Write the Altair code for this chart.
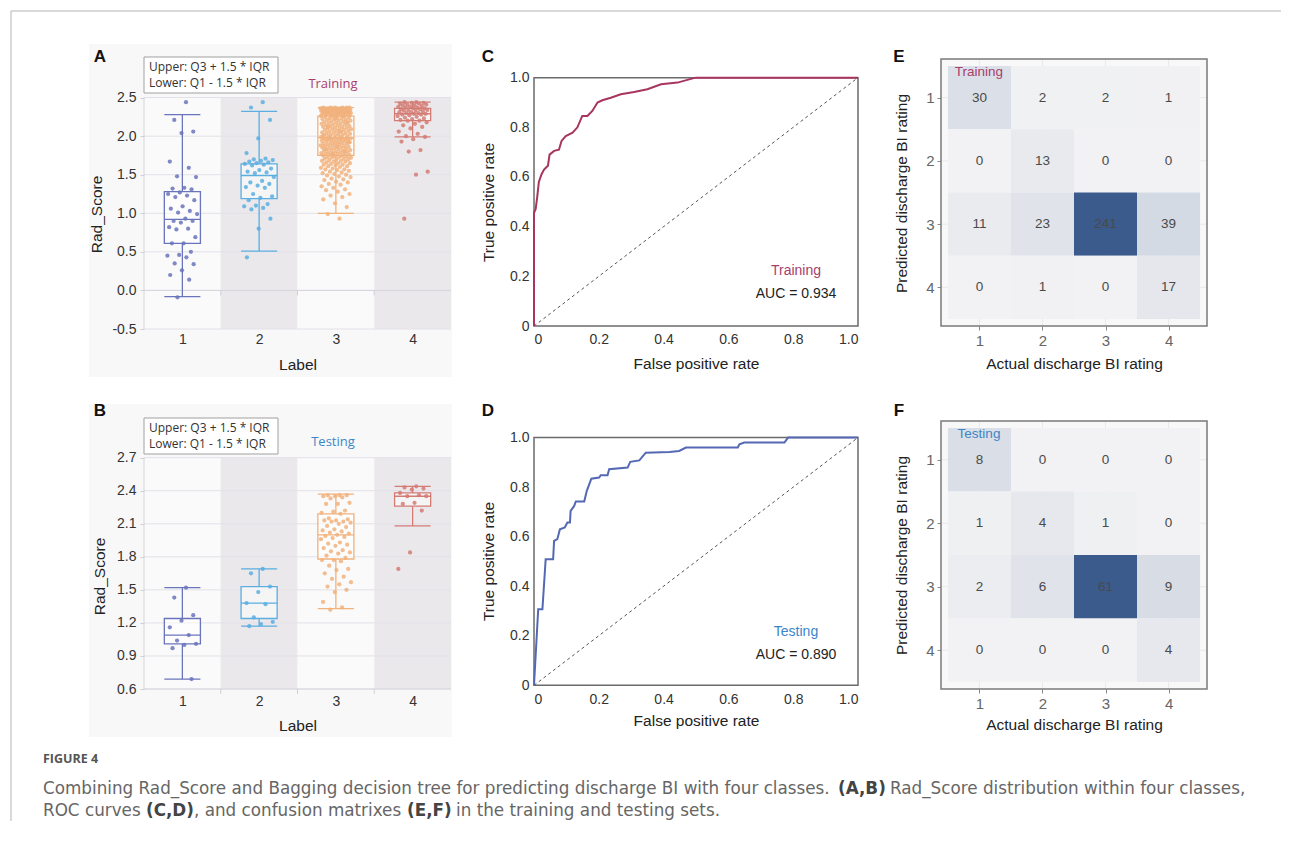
import altair as alt
import pandas as pd

# ---------------- data ----------------
labels = [1, 2, 3, 4]

# Rad_Score points, training set (A)
train_g1 = [2.44, 2.21, 2.06, 2.04, 1.67, 1.59, 1.48, 1.47, 1.33, 1.32, 1.31, 1.27, 1.25, 1.23,
            1.21, 1.17, 1.09, 1.06, 1.03, 1.01, 0.99, 0.93, 0.90, 0.90, 0.88, 0.82, 0.80, 0.79,
            0.69, 0.61, 0.61, 0.50, 0.46, 0.45, 0.43, 0.35, 0.34, 0.26, 0.20, 0.14, -0.09]
train_g2 = [2.44, 2.37, 2.21, 1.97, 1.78, 1.71, 1.70, 1.69, 1.68, 1.67, 1.66, 1.65, 1.64, 1.63,
            1.62, 1.58, 1.56, 1.54, 1.53, 1.52, 1.47, 1.42, 1.40, 1.38, 1.36, 1.34, 1.33, 1.25,
            1.22, 1.20, 1.17, 1.12, 1.10, 1.09, 1.07, 1.05, 0.93, 0.80, 0.43]
train_g3 = [0.93, 0.99, 1.08, 1.13, 1.18, 1.21, 1.23, 1.25, 1.28, 1.30, 1.31, 1.33, 1.35, 1.37,
            1.38, 1.40, 1.41, 1.43, 1.44, 1.45, 1.47, 1.48, 1.49, 1.50, 1.51, 1.52, 1.53, 1.54,
            1.55, 1.56, 1.57, 1.57, 1.58, 1.59, 1.60, 1.61, 1.61, 1.62, 1.63, 1.63, 1.64, 1.65,
            1.65, 1.66, 1.67, 1.67, 1.68, 1.68, 1.69, 1.70, 1.70, 1.71, 1.71, 1.72, 1.72, 1.73,
            1.73, 1.74, 1.74, 1.75, 1.75,
            1.76, 1.76, 1.77, 1.77, 1.78, 1.78, 1.78, 1.79, 1.79, 1.80, 1.80, 1.81, 1.81, 1.82,
            1.82, 1.83, 1.83, 1.84, 1.84, 1.85, 1.85, 1.85, 1.86, 1.86, 1.87, 1.87, 1.88, 1.88,
            1.89, 1.89, 1.90, 1.90, 1.90, 1.91, 1.91, 1.92, 1.92, 1.93, 1.93, 1.93, 1.94, 1.94,
            1.95, 1.95, 1.95, 1.96, 1.96, 1.96, 1.97, 1.97, 1.97, 1.97, 1.98, 1.98, 1.98, 1.98,
            1.92, 1.87, 1.83, 1.80, 1.77,
            1.99, 1.99, 2.00, 2.00, 2.01, 2.01, 2.02, 2.02, 2.03, 2.03, 2.04, 2.04, 2.05, 2.05,
            2.06, 2.06, 2.07, 2.07, 2.08, 2.08, 2.09, 2.09, 2.10, 2.10, 2.11, 2.11, 2.12, 2.12,
            2.13, 2.13, 2.14, 2.14, 2.15, 2.15, 2.16, 2.16, 2.17, 2.17, 2.18, 2.18, 2.19, 2.19,
            2.20, 2.20, 2.21, 2.21, 2.22, 2.22, 2.23, 2.23, 2.24, 2.24, 2.25, 2.25, 2.26, 2.26,
            2.06, 2.12, 2.18, 2.23, 2.01,
            2.26, 2.27, 2.27, 2.27, 2.28, 2.28, 2.28, 2.28, 2.29, 2.29, 2.29, 2.29, 2.30, 2.30,
            2.30, 2.30, 2.30, 2.31, 2.31, 2.31, 2.31, 2.31, 2.32, 2.32, 2.32, 2.32, 2.32, 2.33,
            2.33, 2.33, 2.33, 2.33, 2.34, 2.34, 2.34, 2.34, 2.34, 2.34, 2.35, 2.35, 2.35, 2.35,
            2.35, 2.35, 2.35, 2.36, 2.36, 2.36, 2.36, 2.36, 2.36, 2.36, 2.37, 2.37, 2.37, 2.37,
            2.37, 2.37, 2.30, 2.28]
train_g4 = [2.44, 2.44, 2.43, 2.43, 2.42, 2.42, 2.41, 2.41, 2.40, 2.40, 2.39, 2.38, 2.38, 2.37,
            2.37, 2.36, 2.36, 2.35, 2.35, 2.34, 2.34, 2.33, 2.33, 2.32, 2.31, 2.31, 2.30, 2.30,
            2.29, 2.29, 2.28, 2.28, 2.27, 2.26, 2.25, 2.24, 2.23, 2.22, 2.21, 2.20, 2.20, 2.18,
            2.16, 2.14, 2.12, 2.10, 2.06, 2.03, 2.00, 1.99, 1.96, 1.93, 1.82, 1.80, 1.54, 1.50, 0.93]

# Rad_Score points, testing set (B)
test_g1 = [1.52, 1.43, 1.27, 1.22, 1.16, 1.09, 1.04, 1.01, 1.00, 0.97, 0.69]
test_g2 = [1.69, 1.65, 1.53, 1.48, 1.38, 1.37, 1.25, 1.21, 1.19, 1.17]
test_g3 = [2.36, 2.36, 2.36, 2.35, 2.35, 2.34, 2.33, 2.29, 2.28, 2.28, 2.22, 2.21, 2.20, 2.19,
           2.15, 2.14, 2.13, 2.13, 2.12, 2.12, 2.11, 2.10, 2.08, 2.07, 2.05, 2.04, 2.03, 2.02,
           2.01, 2.00, 1.99, 1.98, 1.97, 1.96, 1.93, 1.92, 1.91, 1.90, 1.88, 1.86, 1.85, 1.84,
           1.83, 1.81, 1.79, 1.77, 1.77, 1.76, 1.72, 1.69, 1.68, 1.65, 1.62, 1.60, 1.57, 1.55,
           1.53, 1.50, 1.48, 1.39, 1.34, 1.32]
test_g4 = [2.44, 2.43, 2.42, 2.41, 2.38, 2.36, 2.35, 2.35, 2.29, 2.28, 2.22, 1.84, 1.69]

# box statistics (lower whisker, Q1, median, Q3, upper whisker)
train_lo = [-0.08, 0.51, 1.00, 1.99]
train_q1 = [0.61, 1.19, 1.75, 2.20]
train_med = [0.92, 1.49, 1.98, 2.29]
train_q3 = [1.28, 1.64, 2.26, 2.36]
train_hi = [2.28, 2.32, 2.37, 2.44]

test_lo = [0.69, 1.17, 1.33, 2.08]
test_q1 = [1.01, 1.24, 1.78, 2.26]
test_med = [1.09, 1.38, 2.00, 2.35]
test_q3 = [1.24, 1.53, 2.19, 2.38]
test_hi = [1.52, 1.69, 2.37, 2.44]

train_yticks = [-0.5, 0.0, 0.5, 1.0, 1.5, 2.0, 2.5]
test_yticks = [0.6, 0.9, 1.2, 1.5, 1.8, 2.1, 2.4, 2.7]

# ROC curves
roc_train_fpr = [0, 0, 0.005, 0.01, 0.015, 0.023, 0.031, 0.043, 0.048, 0.062, 0.077, 0.085, 0.098,
                 0.119, 0.134, 0.149, 0.165, 0.18, 0.196, 0.211, 0.237, 0.268, 0.309, 0.35, 0.392,
                 0.443, 0.49, 0.5, 1.0]
roc_train_tpr = [0, 0.456, 0.47, 0.52, 0.58, 0.61, 0.63, 0.645, 0.69, 0.705, 0.71, 0.745, 0.765,
                 0.778, 0.80, 0.846, 0.846, 0.866, 0.90, 0.909, 0.919, 0.933, 0.942, 0.953, 0.973,
                 0.98, 0.997, 1.0, 1.0]
roc_test_fpr = [0, 0.013, 0.026, 0.036, 0.059, 0.062, 0.072, 0.08, 0.095, 0.103, 0.111, 0.113,
                0.124, 0.129, 0.155, 0.163, 0.177, 0.201, 0.206, 0.227, 0.232, 0.289, 0.297, 0.325,
                0.345, 0.418, 0.448, 0.469, 0.629, 0.634, 0.649, 0.773, 0.784, 1.0]
roc_test_tpr = [0, 0.307, 0.307, 0.509, 0.509, 0.583, 0.59, 0.63, 0.637, 0.657, 0.657, 0.704,
                0.724, 0.742, 0.742, 0.785, 0.834, 0.839, 0.848, 0.848, 0.872, 0.879, 0.902, 0.908,
                0.939, 0.942, 0.946, 0.96, 0.96, 0.973, 0.98, 0.98, 1.0, 1.0]
roc_ticks = [0, 0.2, 0.4, 0.6, 0.8, 1.0]

# confusion matrices: rows = predicted 1..4, columns = actual 1..4
cm_train = [[30, 2, 2, 1],
            [0, 13, 0, 0],
            [11, 23, 241, 39],
            [0, 1, 0, 17]]
cm_test = [[8, 0, 0, 0],
           [1, 4, 1, 0],
           [2, 6, 61, 9],
           [0, 0, 0, 4]]

caption_head = "FIGURE 4"
caption_line1 = ["Combining Rad_Score and Bagging decision tree for predicting discharge BI with four classes.",
                 "(A,B)", "Rad_Score distribution within four classes,"]
caption_line2 = ["ROC curves", "(C,D)", ", and confusion matrixes", "(E,F)",
                 "in the training and testing sets."]

# ---------------- style ----------------
box_colors = ["#6a74bb", "#5aaee0", "#f1b27c", "#d47b74"]
band_fills = ["#fafafa", "#ebe8ec", "#fafafa", "#ebe8ec"]
train_color = "#a8406e"
test_color = "#3c86c8"
roc_train_color = "#a8355f"
roc_test_color = "#5468b4"
SANS = "Liberation Sans"
ONE = pd.DataFrame({"k": [0]})
PANEL_W = 307


def fixed_text(text, x, y, size=13, color="#333", font=SANS, weight="normal",
               align="left", baseline="middle"):
    return alt.Chart(ONE).mark_text(
        text=text, align=align, baseline=baseline, fontSize=size, color=color,
        font=font, fontWeight=weight
    ).encode(x=alt.value(x), y=alt.value(y))


def points_df(groups):
    rows = []
    for g, vals in zip(labels, groups):
        for i, v in enumerate(vals):
            rows.append({"g": g, "v": v, "i": i + 1})
    return pd.DataFrame(rows)


def box_panel(groups, lo, q1, med, q3, hi, yticks, ydom, base, tick_len, h,
              set_name, set_color, letter, title_y, legend_y0, set_y, letter_y,
              x_label_pad, x_title_pad, y_title_pad, bg_y0, bg_y1):
    xs = alt.Scale(domain=[0.5, 4.5], nice=False, zero=False)
    ys = alt.Scale(domain=ydom, nice=False, zero=False)
    col = alt.Scale(domain=labels, range=box_colors)
    xaxis = alt.Axis(values=labels, format="d", title="Label", domain=False, ticks=False,
                     grid=False, labelFontSize=14, labelColor="#333", labelPadding=x_label_pad,
                     titleFontSize=15.5, titleFontWeight="normal", titleColor="#222",
                     titlePadding=x_title_pad, zindex=2)
    yaxis = alt.Axis(values=yticks,
                     labelExpr="(datum.value < 0 ? '-' : '') + format(abs(datum.value), '.1f')",
                     title="Rad_Score", domain=False, ticks=True,
                     tickSize=4, tickColor="#d0d0d8", grid=False, labelFontSize=14,
                     labelColor="#333", labelPadding=4, titleFontSize=15.5,
                     titleFontWeight="normal", titleColor="#222", titlePadding=y_title_pad,
                     titleY=title_y, zindex=2)

    def X(f):
        return alt.X(f, scale=xs, axis=xaxis)

    def Y(f):
        return alt.Y(f, scale=ys, axis=yaxis)

    # light panel background, expressed in the panel's own scale units
    px_x = 4.0 / PANEL_W
    px_y = (ydom[1] - ydom[0]) / h
    bg_df = pd.DataFrame({"bx0": [0.5 - 55 * px_x], "bx1": [4.5 + 1 * px_x],
                          "by0": [ydom[1] - bg_y1 * px_y], "by1": [ydom[1] - bg_y0 * px_y]})
    panel_bg = alt.Chart(bg_df).mark_rect(fill="#f8f8f8").encode(
        x=X("bx0:Q"), x2="bx1:Q", y=Y("by0:Q"), y2="by1:Q")

    band_df = pd.DataFrame({"g": labels, "fill": band_fills,
                            "ylo": [yticks[0]] * 4, "yhi": [yticks[-1]] * 4})
    bands = alt.Chart(band_df).transform_calculate(
        xl="datum.g - 0.5", xr="datum.g + 0.5"
    ).mark_rect().encode(
        x=X("xl:Q"), x2="xr:Q", y=Y("ylo:Q"), y2="yhi:Q",
        fill=alt.Fill("fill:N", scale=None))
    grid = alt.Chart(pd.DataFrame({"ylo": yticks})).mark_rule(
        color="#e2e1e8", strokeWidth=1
    ).encode(y=Y("ylo:Q"), x=alt.value(0), x2=alt.value(PANEL_W))
    baseline = alt.Chart(pd.DataFrame({"ylo": [base]})).mark_rule(
        color="#d6d5dc", strokeWidth=1
    ).encode(y=Y("ylo:Q"), x=alt.value(0), x2=alt.value(PANEL_W))
    left_line = alt.Chart(pd.DataFrame({"ylo": [yticks[0]], "yhi": [yticks[-1]]})).mark_rule(
        color="#d6d5dc", strokeWidth=1
    ).encode(y=Y("ylo:Q"), y2="yhi:Q", x=alt.value(0))
    bticks = alt.Chart(band_df[band_df.g < 4]).transform_calculate(
        xr="datum.g + 0.5", ya=str(base), yb=str(base - tick_len)
    ).mark_rule(color="#cfcfd6", strokeWidth=1).encode(
        x=X("xr:Q"), y=Y("ya:Q"), y2="yb:Q")

    st = pd.DataFrame({"g": labels, "lo": lo, "q1": q1, "med": med, "q3": q3, "hi": hi})
    stc = alt.Chart(st).transform_calculate(xl="datum.g - 0.235", xr="datum.g + 0.235")
    whisk_lo = stc.mark_rule(strokeWidth=1.3).encode(
        x=X("g:Q"), y=Y("lo:Q"), y2="q1:Q",
        color=alt.Color("g:N", scale=col, legend=None))
    whisk_hi = stc.mark_rule(strokeWidth=1.3).encode(
        x=X("g:Q"), y=Y("q3:Q"), y2="hi:Q",
        color=alt.Color("g:N", scale=col, legend=None))
    box = stc.mark_rect(fill="white", fillOpacity=0.55, strokeWidth=1.3).encode(
        x=X("xl:Q"), x2="xr:Q", y=Y("q1:Q"), y2="q3:Q",
        stroke=alt.Stroke("g:N", scale=col, legend=None))
    caps = []
    for fld in ["lo", "med", "hi"]:
        caps.append(stc.mark_rule(strokeWidth=1.3).encode(
            x=X("xl:Q"), x2="xr:Q", y=Y(f"{fld}:Q"),
            color=alt.Color("g:N", scale=col, legend=None)))
    pts = alt.Chart(points_df(groups)).transform_calculate(
        jx="datum.g + (((datum.i * 0.6180339887) % 1) - 0.5) * 0.40"
    ).mark_circle(size=18, opacity=0.85).encode(
        x=X("jx:Q"), y=Y("v:Q"),
        color=alt.Color("g:N", scale=col, legend=None))

    legend_box = alt.Chart(ONE).mark_rect(fill="white", stroke="#a0a0a0", strokeWidth=1).encode(
        x=alt.value(0), x2=alt.value(134), y=alt.value(legend_y0), y2=alt.value(legend_y0 + 36))
    t1 = fixed_text("Upper: Q3 + 1.5 * IQR", 5, legend_y0 + 10, size=12, font="Open Sans",
                    color="#333")
    t2 = fixed_text("Lower: Q1 - 1.5 * IQR", 5, legend_y0 + 26, size=12, font="Open Sans",
                    color="#333")
    tset = fixed_text(set_name, 189, set_y, size=13, font="Open Sans", color=set_color,
                      align="center")
    tlet = fixed_text(letter, -44, letter_y, size=17, weight="bold", color="#111", align="center")

    layers = [panel_bg, bands, grid, baseline, left_line, bticks, whisk_lo, whisk_hi, box] + \
             caps + [pts, legend_box, t1, t2, tset, tlet]
    return layers, h


def roc_panel(fpr, tpr, ydom, line_color, set_name, set_color, auc_text, letter, h,
              title_y, ann_y, letter_y, x_title_pad):
    xs = alt.Scale(domain=[0, 1], nice=False, zero=False)
    ys = alt.Scale(domain=ydom, nice=False, zero=False)
    lab = "datum.value == 0 ? '0' : format(datum.value, '.1f')"
    xaxis = alt.Axis(values=roc_ticks, labelExpr=lab, title="False positive rate", domain=False,
                     ticks=False, grid=False, labelFontSize=14, labelColor="#333",
                     labelPadding=3, titleFontSize=15.5, titleFontWeight="normal",
                     titleColor="#222", titlePadding=x_title_pad)
    yaxis = alt.Axis(values=roc_ticks, labelExpr=lab, title="True positive rate", domain=False,
                     ticks=False, grid=False, labelFontSize=14, labelColor="#333",
                     labelPadding=5, titleFontSize=15.5, titleFontWeight="normal",
                     titleColor="#222", titlePadding=13, titleY=title_y)

    def X(f):
        return alt.X(f, scale=xs, axis=xaxis)

    def Y(f):
        return alt.Y(f, scale=ys, axis=yaxis)

    frame = alt.Chart(pd.DataFrame({"x0": [0], "x1": [1], "y0": [0], "y1": [1]})).mark_rect(
        fill="white", stroke="#6b6b6b", strokeWidth=1.5
    ).encode(x=X("x0:Q"), x2="x1:Q", y=Y("y0:Q"), y2="y1:Q")
    diag = alt.Chart(pd.DataFrame({"x0": [0, 1], "y0": [0, 1]})).mark_line(
        strokeDash=[3, 3], color="#555", strokeWidth=1
    ).encode(x=X("x0:Q"), y=Y("y0:Q"))
    curve_df = pd.DataFrame({"i": list(range(len(fpr))), "x0": fpr, "y0": tpr})
    curve = alt.Chart(curve_df).mark_line(color=line_color, strokeWidth=2).encode(
        x=X("x0:Q"), y=Y("y0:Q"), order="i:Q")
    t_set = fixed_text(set_name, 262, ann_y, size=14, color=set_color, align="center")
    t_auc = fixed_text(auc_text, 262, ann_y + 23, size=14, color="#222", align="center")
    tlet = fixed_text(letter, -46, letter_y, size=17, weight="bold", color="#111", align="center")
    return [frame, diag, curve, t_set, t_auc, tlet], h


def cm_panel(matrix, ydom, set_name, set_color, letter, h, title_y, letter_y, x_offset,
             x_title_pad):
    lo_f, hi_f = 0.39, 4.61
    xs = alt.Scale(domain=[lo_f, hi_f], nice=False, zero=False)
    ys = alt.Scale(domain=ydom, nice=False, zero=False, reverse=True)
    xaxis = alt.Axis(values=labels, format="d", title="Actual discharge BI rating", domain=False,
                     ticks=True, tickSize=4, tickColor="#888", grid=False, labelFontSize=15,
                     labelColor="#666", labelPadding=3, offset=x_offset, titleFontSize=15.5,
                     titleFontWeight="normal", titleColor="#222", titlePadding=x_title_pad)
    yaxis = alt.Axis(values=labels, format="d", title="Predicted discharge BI rating",
                     domain=False, ticks=True, tickSize=4, tickColor="#888", grid=False,
                     labelFontSize=15, labelColor="#666", labelPadding=3, titleFontSize=15.5,
                     titleFontWeight="normal", titleColor="#222", titlePadding=16,
                     titleY=title_y)

    def X(f):
        return alt.X(f, scale=xs, axis=xaxis)

    def Y(f):
        return alt.Y(f, scale=ys, axis=yaxis)

    fr = pd.DataFrame({"x0": [lo_f], "x1": [hi_f], "y0": [lo_f], "y1": [hi_f]})
    bg = alt.Chart(fr).mark_rect(fill="#f8f8f9").encode(
        x=X("x0:Q"), x2="x1:Q", y=Y("y0:Q"), y2="y1:Q")
    gl = pd.DataFrame({"v": labels, "x0": [lo_f] * 4, "x1": [hi_f] * 4,
                       "y0": [lo_f] * 4, "y1": [hi_f] * 4})
    gv = alt.Chart(gl).mark_rule(color="#e9e9ec", strokeWidth=1).encode(
        x=X("v:Q"), y=Y("y0:Q"), y2="y1:Q")
    gh = alt.Chart(gl).mark_rule(color="#e9e9ec", strokeWidth=1).encode(
        y=Y("v:Q"), x=X("x0:Q"), x2="x1:Q")
    rows = [{"act": a, "pred": p, "n": matrix[p - 1][a - 1]} for p in labels for a in labels]
    cdf = pd.DataFrame(rows)
    nmax = int(cdf.n.max())
    base = alt.Chart(cdf).transform_calculate(
        x0="datum.act - 0.5", x1="datum.act + 0.5", y0="datum.pred - 0.5", y1="datum.pred + 0.5")
    tiles = base.mark_rect().encode(
        x=X("x0:Q"), x2="x1:Q", y=Y("y0:Q"), y2="y1:Q",
        color=alt.Color("n:Q", scale=alt.Scale(domain=[0, nmax], range=["#f2f2f4", "#3a5b8c"],
                                               interpolate="rgb"),
                        legend=None))
    nums = base.mark_text(fontSize=13.5, color="#4a4a4a", font=SANS).encode(
        x=X("act:Q"), y=Y("pred:Q"), text="n:Q")
    outline = alt.Chart(fr).mark_rect(fill=None, stroke="#7a7a7a", strokeWidth=1.5).encode(
        x=X("x0:Q"), x2="x1:Q", y=Y("y0:Q"), y2="y1:Q")
    t_set = fixed_text(set_name, 38, 13, size=13.5, color=set_color, align="center")
    tlet = fixed_text(letter, -42, letter_y, size=17, weight="bold", color="#111", align="center")
    return [bg, gv, gh, tiles, nums, outline, t_set, tlet], h


# ---------------- panels ----------------
A_layers, A_h = box_panel([train_g1, train_g2, train_g3, train_g4], train_lo, train_q1,
                          train_med, train_q3, train_hi, train_yticks, [-0.5, 3.0], 0.0, 0.065,
                          270, "Training", train_color, "A", 155, -2, 25, -2, 3, 11, 7, -15, 318)
B_layers, B_h = box_panel([test_g1, test_g2, test_g3, test_g4], test_lo, test_q1, test_med,
                          test_q3, test_hi, test_yticks, [0.6, 3.033], 0.6, 0.045, 268,
                          "Testing", test_color, "B", 155, -3, 21, -10, 5, 10, 9, -17, 316)

# figure frame lines and caption (placed relative to panel A)
border_top = alt.Chart(ONE).mark_rule(color="#b4b4b4", strokeWidth=1).encode(
    x=alt.value(-133), x2=alt.value(1137), y=alt.value(-48))
border_left = alt.Chart(ONE).mark_rule(color="#b4b4b4", strokeWidth=1).encode(
    x=alt.value(-133), y=alt.value(-48), y2=alt.value(762))
CAP = "DejaVu Sans"
CAP_SIZE = 16.8
CAP_COLOR = "#666"
cap_layers = [fixed_text(caption_head, -101, 700, size=12.5, font="Open Sans", weight="bold",
                         color="#555")]
x1_pos = [-101, 694, 746]
x2_pos = [-101, 2, 50, 263, 312]
for k, (seg, xp) in enumerate(zip(caption_line1, x1_pos)):
    cap_layers.append(fixed_text(seg, xp, 730, size=CAP_SIZE, font=CAP,
                                 weight="bold" if k == 1 else "normal",
                                 color="#444" if k == 1 else CAP_COLOR))
for k, (seg, xp) in enumerate(zip(caption_line2, x2_pos)):
    cap_layers.append(fixed_text(seg, xp, 752, size=CAP_SIZE, font=CAP,
                                 weight="bold" if k in (1, 3) else "normal",
                                 color="#444" if k in (1, 3) else CAP_COLOR))

panelA = alt.layer(*(A_layers + [border_top, border_left] + cap_layers)).properties(
    width=PANEL_W, height=A_h)
panelB = alt.layer(*B_layers).properties(width=PANEL_W, height=B_h)

C_layers, C_h = roc_panel(roc_train_fpr, roc_train_tpr, [-0.012, 1.075], roc_train_color,
                          "Training", train_color, "AUC = 0.934", "C", 270, 143, 212, -2, 10)
D_layers, D_h = roc_panel(roc_test_fpr, roc_test_tpr, [-0.015, 1.067], roc_test_color,
                          "Testing", test_color, "AUC = 0.890", "D", 268, 140, 211, -10, 7)
panelC = alt.layer(*C_layers).properties(width=324, height=C_h)
panelD = alt.layer(*D_layers).properties(width=324, height=D_h)

E_layers, E_h = cm_panel(cm_train, [0.39, 4.658], "Training", train_color, "E", 270, 134, -2,
                         -3, 8)
F_layers, F_h = cm_panel(cm_test, [0.39, 4.61], "Testing", test_color, "F", 268, 134, -10, 0, 6)
panelE = alt.layer(*E_layers).properties(width=266, height=E_h)
panelF = alt.layer(*F_layers).properties(width=266, height=F_h)

chart = alt.concat(
    panelA, panelC, panelE, panelB, panelD, panelF,
    columns=3, bounds="flush", spacing={"row": 92, "column": 83}
).resolve_scale(
    x="independent", y="independent", color="independent", stroke="independent",
    fill="independent"
).properties(
    padding={"left": 2, "top": 2, "right": 2, "bottom": 2}
).configure(
    font=SANS, background="white"
).configure_view(stroke=None)

chart.save("out.html", embed_options={"renderer": "svg", "actions": False})
